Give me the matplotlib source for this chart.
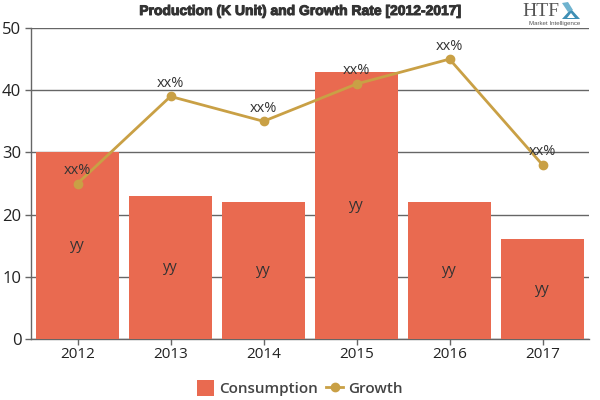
import matplotlib
matplotlib.use("Agg")
import matplotlib.pyplot as plt
import matplotlib.patheffects as pe
from matplotlib.patches import Circle, Polygon

years = ["2012", "2013", "2014", "2015", "2016", "2017"]
consumption = [30, 23, 22, 43, 22, 16]
growth = [25, 39, 35, 41, 45, 28]
bar_labels = ["yy"] * 6
line_labels = ["xx%"] * 6

plt.rcParams["font.family"] = ["Open Sans", "DejaVu Sans"]
BAR, LINE, AXIS, TXT = "#E96A50", "#C9A045", "#666666", "#333333"

fig = plt.figure(figsize=(6, 4), dpi=100)
ax = fig.add_axes([31 / 600, 1 - 339 / 400, 558 / 600, 311 / 400])
x = list(range(len(years)))

bars = ax.bar(x, consumption, width=0.89, color=BAR, zorder=2, label="Consumption")
line, = ax.plot(x, growth, color=LINE, lw=2, marker="o", ms=6, zorder=3, label="Growth")

for i, (c, g) in enumerate(zip(consumption, growth)):
    ax.text(i, c / 2, bar_labels[i], ha="center", va="center", fontsize=10.5, color=TXT, zorder=4)
    ax.annotate(line_labels[i], (i, g), xytext=(0, 4), textcoords="offset points",
                ha="center", va="bottom", fontsize=10.5, color=TXT, zorder=4)

ax.set_xlim(-0.5, 5.5)
ax.set_ylim(0, 50)
ax.set_yticks(range(0, 51, 10))
ax.set_xticks(x, years)
ax.grid(axis="y", color=AXIS, lw=1, zorder=1)
ax.set_axisbelow(True)
for s in ("top", "right"):
    ax.spines[s].set_visible(False)
for s in ("left", "bottom"):
    ax.spines[s].set_color(AXIS)
    ax.spines[s].set_linewidth(1)
    ax.spines[s].set_zorder(1.5)
ax.tick_params(axis="both", color=AXIS, length=4, width=1, labelsize=11, labelcolor="#222222", pad=1.5)
ax.tick_params(axis="y", labelsize=12, pad=3)

title = fig.text(300 / 600, 1 - 11 / 400, "Production (K Unit) and Growth Rate [2012-2017]",
                 ha="center", va="center", family="Liberation Sans", fontweight="bold",
                 fontsize=10, color="#333333")
title.set_path_effects([pe.withStroke(linewidth=0.7, foreground="#333333")])

# Logo in the top right corner
fig.text(541 / 600, 1 - 12 / 400, "HTF", ha="center", va="center", family="Liberation Serif",
         fontsize=14, color="#555555")
fig.text(555 / 600, 1 - 24 / 400, "Market Intelligence", ha="center", va="center",
         family="Liberation Sans", fontsize=4.4, color="#555555")
W, H = 600, 400
fig.add_artist(Polygon([(562 / W, 1 - 19 / H), (571 / W, 1 - 9 / H), (580 / W, 1 - 19 / H)],
                       closed=True, transform=fig.transFigure, facecolor="#3F8FB5", edgecolor="none"))
fig.add_artist(Polygon([(562 / W, 1 - 3 / H), (568 / W, 1 - 2 / H), (573 / W, 1 - 10 / H), (568 / W, 1 - 12 / H)],
                       closed=True, transform=fig.transFigure, facecolor="#6FB3CF", edgecolor="none"))
fig.add_artist(Polygon([(567 / W, 1 - 18 / H), (571 / W, 1 - 13 / H), (575 / W, 1 - 18 / H)],
                       closed=True, transform=fig.transFigure, facecolor="white", edgecolor="none"))

leg = fig.legend(handles=[bars, line], labels=["Consumption", "Growth"], loc="center",
                 bbox_to_anchor=(300 / 600, 1 - 388 / 400), ncol=2, frameon=False, fontsize=11,
                 handlelength=1.1, handleheight=1.2, columnspacing=0.55, handletextpad=0.35)
for t in leg.get_texts():
    t.set_color("#444444")
    t.set_fontweight("semibold")

fig.savefig("out.png", dpi=100)
